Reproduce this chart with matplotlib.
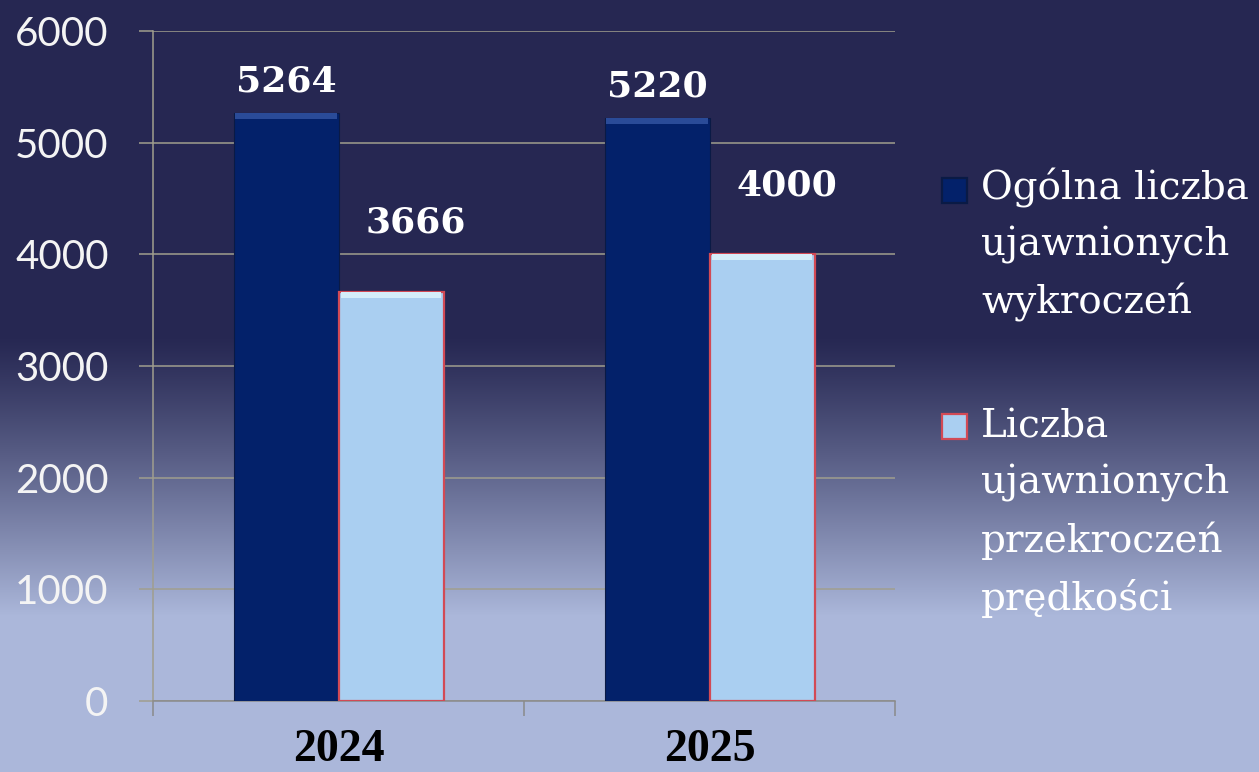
import numpy as np
import matplotlib
matplotlib.use("Agg")
import matplotlib.pyplot as plt
from matplotlib.patches import Rectangle

# ---- data ----
categories = ["2024", "2025"]
series_names = ["Ogólna liczba\nujawnionych\nwykroczeń",
                "Liczba\nujawnionych\nprzekroczeń\nprędkości"]
total_offences = [5264, 5220]
speeding_offences = [3666, 4000]
yticks = [0, 1000, 2000, 3000, 4000, 5000, 6000]

W, H = 1259, 772
fig = plt.figure(figsize=(W / 100, H / 100), dpi=100)

# ---- background gradient ----
bg = fig.add_axes([0, 0, 1, 1], zorder=-10)
bg.axis("off")
top_c = np.array([38, 39, 82]) / 255
bot_c = np.array([171, 183, 218]) / 255
rows = np.arange(H)
t = np.clip((rows - 335) / (615 - 335), 0, 1)
t = t ** 1.15
grad = (1 - t)[:, None] * top_c + t[:, None] * bot_c
img = np.repeat(grad[:, None, :], 4, axis=1)
bg.imshow(img, aspect="auto", extent=[0, 1, 0, 1], origin="upper")
bg.set_xlim(0, 1); bg.set_ylim(0, 1)

# ---- main axes ----
ax = fig.add_axes([153 / W, 1 - 701 / H, (895 - 153) / W, (701 - 31) / H])
ax.set_facecolor("none")

x = np.arange(len(categories))
bw = 105 / 371
dark = "#03216a"
light = "#aacff1"
ax.bar(x - bw / 2, total_offences, width=bw, color=dark, edgecolor="#0a1a45",
       linewidth=0.8, zorder=3)
ax.bar(x + bw / 2, speeding_offences, width=bw, color=light, edgecolor="#d24a55",
       linewidth=1.6, zorder=3)
# bevel highlights at bar tops
ax.bar(x - bw / 2, [55] * len(x), bottom=np.array(total_offences) - 55, width=bw * 0.97,
       color="#2a4b98", linewidth=0, zorder=4)
ax.bar(x + bw / 2, [55] * len(x), bottom=np.array(speeding_offences) - 55, width=bw * 0.95,
       color="#d5eefa", linewidth=0, zorder=4)

ax.set_xlim(-0.5, len(categories) - 0.5)
ax.set_ylim(0, 6000)
ax.set_yticks(yticks)
ax.set_yticklabels([str(v) for v in yticks], fontfamily="Lato", fontsize=29,
                   color="#f4f4f4")
ax.yaxis.grid(True, color="#a09e8e", linewidth=1.1, zorder=0)
ax.tick_params(axis="y", length=10, width=1.1, color="#a09e8e", pad=22)

ax.set_xticks(np.arange(len(categories) + 1) - 0.5, minor=False)
ax.set_xticklabels([""] * (len(categories) + 1))
ax.tick_params(axis="x", length=11, width=1.1, color="#8a8a8a", pad=0)
for i, c in enumerate(categories):
    ax.annotate(c, (i, 0), xytext=(0, -(761 - 701)), textcoords="offset pixels",
                ha="center", va="baseline", fontfamily="Liberation Serif",
                fontweight="bold", fontsize=33, color="black", annotation_clip=False)

for s in ["top", "right"]:
    ax.spines[s].set_visible(False)
ax.spines["left"].set_color("#a09e8e")
ax.spines["bottom"].set_color("#8a8a8a")
ax.spines["left"].set_linewidth(1.1)
ax.spines["bottom"].set_linewidth(1.1)

# value labels
for i, v in enumerate(total_offences):
    ax.annotate(str(v), (i - bw / 2, v), xytext=(0, 15), textcoords="offset pixels",
                ha="center", va="bottom", fontfamily="DejaVu Serif", fontweight="bold",
                fontsize=26, color="white")
for i, v in enumerate(speeding_offences):
    ax.annotate(str(v), (i + bw / 2, v), xytext=(25, 52), textcoords="offset pixels",
                ha="center", va="bottom", fontfamily="DejaVu Serif", fontweight="bold",
                fontsize=26, color="white")

# ---- legend (manual) ----
leg_items = [
    (series_names[0], dark, "#0a1a45", 178, 168),
    (series_names[1], light, "#d24a55", 414, 409),
]
for label, fc, ec, ysq, ytxt in leg_items:
    fig.patches.append(Rectangle((942 / W, 1 - (ysq + 25) / H), 25 / W, 25 / H,
                                 transform=fig.transFigure, facecolor=fc,
                                 edgecolor=ec, linewidth=1.6))
    fig.text(981 / W, 1 - ytxt / H, label, ha="left", va="top",
             fontfamily="DejaVu Serif", fontsize=28, color="white", linespacing=1.62)

fig.savefig("out.png", dpi=100)
